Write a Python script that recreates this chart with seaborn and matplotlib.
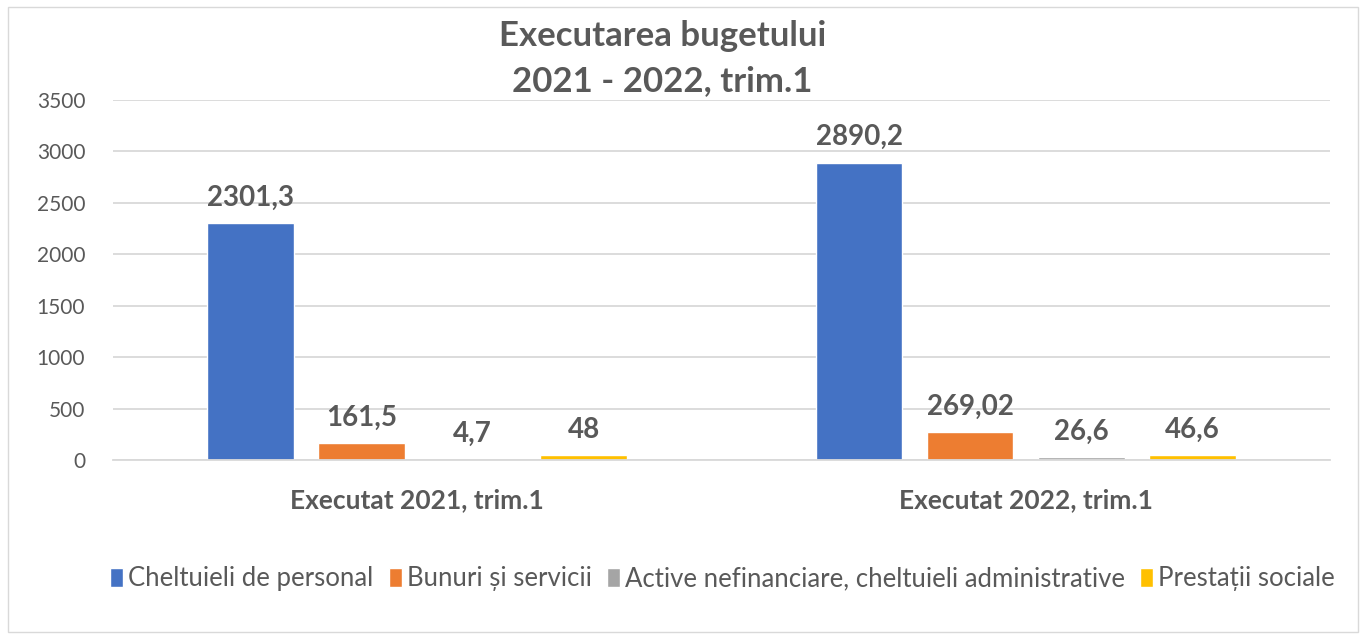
import matplotlib
matplotlib.use("Agg")
import matplotlib.pyplot as plt
import seaborn as sns
import pandas as pd
from matplotlib.patches import Rectangle

# data
groups = ["Executat 2021, trim.1", "Executat 2022, trim.1"]
series = ["Cheltuieli de personal", "Bunuri și servicii",
          "Active nefinanciare, cheltuieli administrative", "Prestații sociale"]
vals_2021 = [2301.3, 161.5, 4.7, 48]
vals_2022 = [2890.2, 269.02, 26.6, 46.6]
value_labels = [["2301,3", "161,5", "4,7", "48"],
                ["2890,2", "269,02", "26,6", "46,6"]]
colors = ["#4472C4", "#ED7D31", "#A5A5A5", "#FFC000"]

rows = []
for g, vals in zip(groups, [vals_2021, vals_2022]):
    for s, v in zip(series, vals):
        rows.append({"grup": g, "categorie": s, "valoare": v})
df = pd.DataFrame(rows)

sns.set_style("white")
plt.rcParams["font.family"] = ["Lato", "DejaVu Sans"]
txt = "#595959"

fig = plt.figure(figsize=(13.66, 6.34), dpi=100)
ax = fig.add_axes([0.0827, 0.2744, 0.8909, 0.5679])

sns.barplot(data=df, x="grup", y="valoare", hue="categorie", order=groups,
            hue_order=series, palette=colors, width=0.73, gap=0.22,
            saturation=1, ax=ax, legend=True)

ax.set_ylim(0, 3500)
ax.set_xlim(-0.5, 1.5)
ax.set_yticks(range(0, 3501, 500))
ax.yaxis.grid(True, color="#D9D9D9", linewidth=1.3)
ax.set_axisbelow(True)
for sp in ["top", "right", "left"]:
    ax.spines[sp].set_visible(False)
ax.spines["bottom"].set_color("#D9D9D9")
ax.spines["bottom"].set_linewidth(1.3)
ax.set_xlabel("")
ax.set_ylabel("")
ax.tick_params(axis="both", length=0)
ax.tick_params(axis="y", labelsize=15, labelcolor=txt, pad=20)
ax.tick_params(axis="x", labelsize=19, labelcolor=txt, pad=20)
for t in ax.get_xticklabels():
    t.set_fontweight("bold")

# value labels
for i, cont in enumerate(ax.containers):
    labs = [value_labels[j][i] for j in range(len(groups))]
    ax.bar_label(cont, labels=labs, padding=9, fontsize=20,
                 fontweight="bold", color=txt)

leg = ax.legend(loc="center", bbox_to_anchor=(0.501, -0.33), ncol=4,
                frameon=False, fontsize=18.5, handlelength=0.5,
                handleheight=0.75, handletextpad=0.2, columnspacing=0.6)
for t in leg.get_texts():
    t.set_color(txt)

fig.text(0.485, 0.943, "Executarea bugetului", ha="center", va="center",
         fontsize=25, fontweight="bold", color=txt)
fig.text(0.485, 0.872, "2021 - 2022, trim.1", ha="center", va="center",
         fontsize=25, fontweight="bold", color=txt)

fig.patches.append(Rectangle((0.006, 0.003), 0.988, 0.986, transform=fig.transFigure,
                             fill=False, edgecolor="#D9D9D9", linewidth=1))

fig.savefig("out.png", dpi=100)
